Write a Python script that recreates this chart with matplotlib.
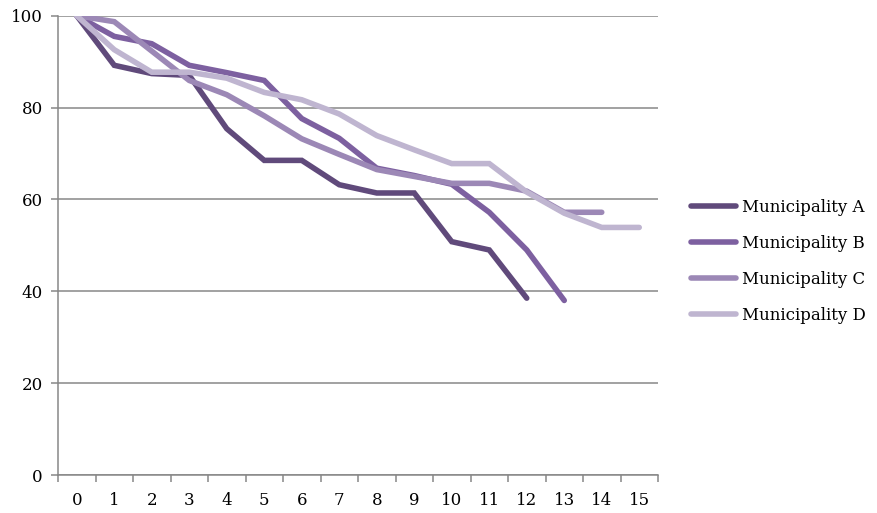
import numpy as np
import matplotlib
matplotlib.use("Agg")
from matplotlib import pyplot as plt

# survey rounds and share remaining per municipality
rounds = list(range(16))
mun_a = [100, 89.2, 87.4, 87.0, 75.4, 68.5, 68.5, 63.2, 61.4, 61.4, 50.8, 49.0, 38.5]
mun_b = [100, 95.5, 93.9, 89.2, 87.6, 85.9, 77.6, 73.3, 66.8, 65.2, 63.3, 57.2, 49.0, 38.0]
mun_c = [100, 98.7, 92.3, 85.9, 82.8, 78.2, 73.2, 69.8, 66.5, 65.0, 63.5, 63.5, 61.8, 57.2, 57.2]
mun_d = [100, 92.6, 87.7, 87.7, 86.4, 83.3, 81.7, 78.6, 73.9, 70.8, 67.8, 67.8, 61.6, 57.0, 53.9, 53.9]
names = ["Municipality A", "Municipality B", "Municipality C", "Municipality D"]
colors = ["#604A7B", "#7D60A0", "#9C88B6", "#BFB5D0"]

plt.rcParams['font.family'] = ['DejaVu Serif']
grey = "#878787"

fig = plt.figure(figsize=(8.77, 5.13), dpi=100)
ax = fig.add_axes([58 / 877, 1 - 475 / 513, 600 / 877, (475 - 15.7) / 513])

for vals, name, col in zip([mun_a, mun_b, mun_c, mun_d], names, colors):
    ax.plot(rounds[:len(vals)], vals, color=col, lw=4.0, label=name,
            solid_capstyle="round", solid_joinstyle="miter", zorder=3)

ax.set_xlim(-0.5, 15.5)
ax.set_ylim(0, 100)
ax.set_yticks(np.arange(0, 101, 20))
ax.yaxis.grid(True, color=grey, lw=1.1)
ax.set_axisbelow(True)

# category labels centred, tick marks on the boundaries
ax.set_xticks(np.arange(-0.5, 16, 1))
ax.set_xticklabels([])
ax.set_xticks(rounds, minor=True)
ax.set_xticklabels([str(r) for r in rounds], minor=True)
ax.tick_params(axis="x", which="minor", length=0, pad=12, labelsize=12)
ax.tick_params(axis="x", which="major", length=5, color=grey, width=1.1)
ax.tick_params(axis="y", length=5, color=grey, width=1.1, labelsize=12, pad=6)

for s in ["top", "right"]:
    ax.spines[s].set_visible(False)
for s in ["left", "bottom"]:
    ax.spines[s].set_color(grey)
    ax.spines[s].set_linewidth(1.1)

leg = ax.legend(loc="center left", bbox_to_anchor=(1.03, 0.465), frameon=False,
                fontsize=12, handlelength=2.7, handletextpad=0.35, labelspacing=1.15)

fig.savefig("out.png", dpi=100)
